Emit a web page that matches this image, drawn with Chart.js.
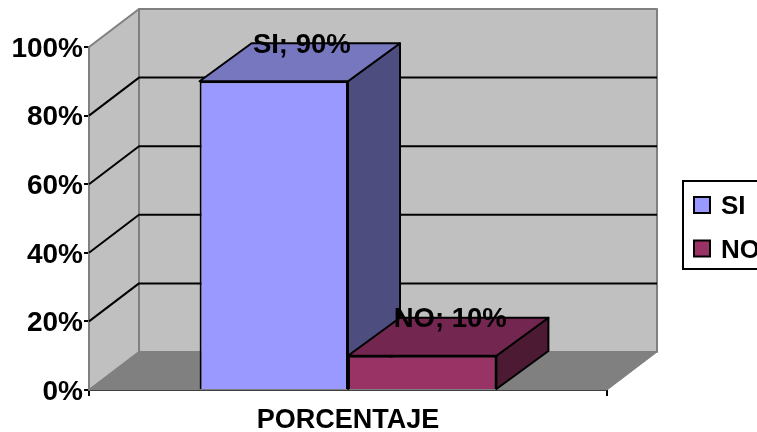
<!DOCTYPE html>
<html>
<head>
<meta charset="utf-8">
<title>PORCENTAJE</title>
<script src="https://cdn.jsdelivr.net/npm/chart.js@4/dist/chart.umd.min.js"></script>
<style>
  html, body { margin: 0; padding: 0; background: #fff; overflow: hidden; }
  canvas { display: block; }
</style>
</head>
<body>
<canvas id="surveyChart" width="757" height="432"></canvas>
<script>
// Chart data
const categories = ["PORCENTAJE"];
const seriesNames = ["SI", "NO"];
const siValues = [90];
const noValues = [10];
const yTicks = [0, 20, 40, 60, 80, 100];

const FONT = '"Liberation Sans", Arial, sans-serif';
const WALL = "#c0c0c0";
const FLOOR = "#808080";
const FRONT_COLORS = ["#9999ff", "#993366"];
const TOP_COLORS = ["#7777bf", "#732650"];
const SIDE_COLORS = ["#4d4d80", "#4d1a33"];

// Depth offsets of the fake 3D box
const WALL_DX = 50;
const BAR_DX = 52;
const DY = -38;

function polygon(ctx, points, fill, stroke, lineWidth) {
  ctx.beginPath();
  points.forEach((p, i) => (i ? ctx.lineTo(p[0], p[1]) : ctx.moveTo(p[0], p[1])));
  ctx.closePath();
  ctx.fillStyle = fill;
  ctx.fill();
  if (stroke) {
    ctx.strokeStyle = stroke;
    ctx.lineWidth = lineWidth;
    ctx.lineJoin = "round";
    ctx.stroke();
  }
}

// Walls, floor and gridlines behind the bars
const boxPlugin = {
  id: "box3d",
  beforeDatasetsDraw(chart) {
    const { ctx, chartArea: a, scales } = chart;
    const y = scales.y;
    const base = y.getPixelForValue(0);
    const top = y.getPixelForValue(100);
    ctx.save();
    // side wall
    polygon(ctx, [[a.left, base], [a.left, top], [a.left + WALL_DX, top + DY], [a.left + WALL_DX, base + DY]], WALL, FLOOR, 2);
    // back wall
    polygon(ctx, [[a.left + WALL_DX, top + DY], [a.right + WALL_DX, top + DY], [a.right + WALL_DX, base + DY], [a.left + WALL_DX, base + DY]], WALL, FLOOR, 2);
    // floor
    polygon(ctx, [[a.left, base], [a.left + WALL_DX, base + DY], [a.right + WALL_DX, base + DY], [a.right, base]], FLOOR, FLOOR, 1);

    ctx.strokeStyle = "#000";
    ctx.lineWidth = 2;
    yTicks.slice(1, -1).forEach((v) => {
      const py = y.getPixelForValue(v);
      ctx.beginPath();
      ctx.moveTo(a.left, py);
      ctx.lineTo(a.left + WALL_DX, py + DY);
      ctx.lineTo(a.right + WALL_DX, py + DY);
      ctx.stroke();
    });

    // top and side faces of the columns, the front is drawn by the library
    chart.data.datasets.forEach((_, i) => {
      const bar = chart.getDatasetMeta(i).data[0];
      const l = bar.x - bar.width / 2;
      const r = bar.x + bar.width / 2;
      polygon(ctx, [[r, bar.y], [r + BAR_DX, bar.y + DY], [r + BAR_DX, bar.base + DY], [r, bar.base]], SIDE_COLORS[i], "#000", 2);
      polygon(ctx, [[l, bar.y], [l + BAR_DX, bar.y + DY], [r + BAR_DX, bar.y + DY], [r, bar.y]], TOP_COLORS[i], "#000", 2);
    });
    ctx.restore();
  },
  afterDatasetsDraw(chart) {
    const { ctx } = chart;
    ctx.save();
    ctx.font = `bold 27.5px ${FONT}`;
    ctx.fillStyle = "#000";
    ctx.textAlign = "center";
    ctx.textBaseline = "middle";
    chart.data.datasets.forEach((ds, i) => {
      const bar = chart.getDatasetMeta(i).data[0];
      ctx.fillText(`${ds.label}; ${ds.data[0]}%`, bar.x + 28, bar.y + DY + 2);
    });
    ctx.restore();
  },
};

// Legend box, runs off the right edge of the canvas
const legendPlugin = {
  id: "sideLegend",
  afterDraw(chart) {
    const { ctx } = chart;
    ctx.save();
    ctx.strokeStyle = "#000";
    ctx.lineWidth = 2;
    ctx.strokeRect(683, 181, 100, 88);
    ctx.font = `bold 26px ${FONT}`;
    ctx.textBaseline = "middle";
    seriesNames.forEach((name, i) => {
      const cy = 205 + i * 43.5;
      ctx.fillStyle = FRONT_COLORS[i];
      ctx.fillRect(694, cy - 8, 16, 16);
      ctx.strokeRect(694, cy - 8, 16, 16);
      ctx.fillStyle = "#000";
      ctx.fillText(name, 721, cy + 2);
    });
    ctx.restore();
  },
};

new Chart(document.getElementById("surveyChart"), {
  type: "bar",
  data: {
    labels: categories,
    datasets: [
      { label: seriesNames[0], data: siValues, backgroundColor: FRONT_COLORS[0], borderColor: "#000", borderWidth: 2 },
      { label: seriesNames[1], data: noValues, backgroundColor: FRONT_COLORS[1], borderColor: "#000", borderWidth: 2 },
    ],
  },
  options: {
    responsive: false,
    animation: false,
    layout: { padding: { left: 0, top: 47, right: 150, bottom: 0 } },
    categoryPercentage: 0.573,
    barPercentage: 1,
    plugins: {
      legend: { display: false },
      tooltip: { enabled: false },
    },
    scales: {
      x: {
        afterFit(scale) {
          scale.height = 42;
        },
        grid: { drawOnChartArea: false, color: "#000", lineWidth: 2, tickLength: 6 },
        border: { color: "#000", width: 2 },
        ticks: { color: "#000", padding: 8, font: { family: FONT, size: 27, weight: "bold" } },
      },
      y: {
        min: 0,
        max: 100,
        afterFit(scale) {
          scale.width = 89;
        },
        afterBuildTicks(scale) {
          scale.ticks = yTicks.map((value) => ({ value }));
        },
        grid: { drawOnChartArea: false, color: "#000", lineWidth: 2, tickLength: 5 },
        border: { color: "#000", width: 2 },
        ticks: {
          color: "#000",
          padding: 1,
          labelOffset: 2,
          font: { family: FONT, size: 28, weight: "bold" },
          callback: (value) => value + "%",
        },
      },
    },
  },
  plugins: [boxPlugin, legendPlugin],
});
</script>
</body>
</html>
